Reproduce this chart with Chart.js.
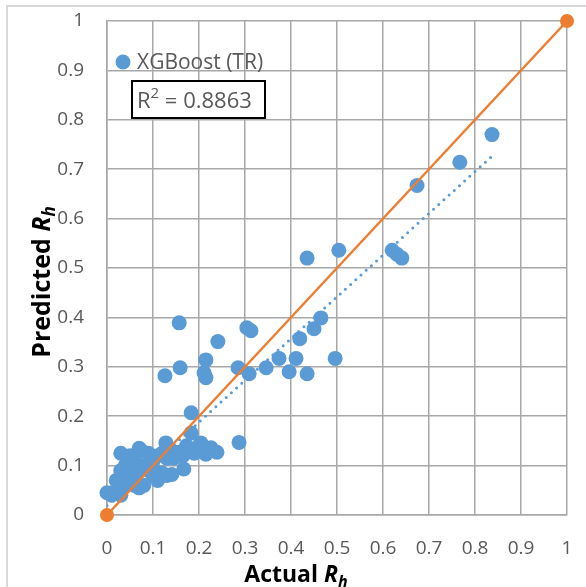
<!DOCTYPE html>
<html>
<head>
<meta charset="utf-8">
<script src="https://cdn.jsdelivr.net/npm/chart.js@4"></script>
<style>
  body { margin: 0; background: #fff; }
  #wrap { width: 586px; height: 587px; }
</style>
</head>
<body>
<div id="wrap"><canvas id="RhChart"></canvas></div>
<script>
// values
var actualRh = [
  0.837, 0.767, 0.674, 0.620, 0.630, 0.641, 0.504, 0.435, 0.465, 0.450,
  0.419, 0.411, 0.496, 0.396, 0.435, 0.374, 0.346, 0.309, 0.285, 0.304,
  0.313, 0.241, 0.215, 0.159, 0.157, 0.126, 0.211, 0.215, 0.183, 0.183,
  0.287,
  0.000, 0.010, 0.020, 0.030, 0.040, 0.020, 0.030, 0.040, 0.050, 0.060,
  0.070, 0.080, 0.050, 0.030, 0.070, 0.075, 0.060, 0.080, 0.090, 0.100,
  0.100, 0.110, 0.120, 0.130, 0.110, 0.120, 0.128, 0.140, 0.150, 0.157,
  0.167, 0.141, 0.189, 0.204, 0.226, 0.239, 0.215, 0.090, 0.045, 0.055,
  0.065, 0.173, 0.190, 0.200, 0.165, 0.145, 0.130, 0.100
];
var predictedRh = [
  0.770, 0.714, 0.667, 0.536, 0.528, 0.520, 0.536, 0.520, 0.399, 0.377,
  0.357, 0.317, 0.317, 0.290, 0.286, 0.317, 0.298, 0.286, 0.298, 0.379,
  0.373, 0.351, 0.314, 0.298, 0.389, 0.282, 0.288, 0.278, 0.207, 0.166,
  0.147,
  0.045, 0.040, 0.050, 0.040, 0.060, 0.070, 0.090, 0.100, 0.080, 0.060,
  0.055, 0.060, 0.120, 0.125, 0.135, 0.130, 0.110, 0.100, 0.090, 0.110,
  0.080, 0.070, 0.085, 0.080, 0.120, 0.125, 0.146, 0.130, 0.120, 0.127,
  0.093, 0.082, 0.133, 0.146, 0.136, 0.127, 0.123, 0.125, 0.095, 0.105,
  0.085, 0.140, 0.125, 0.140, 0.120, 0.115, 0.115, 0.095
];
var idealX = [0, 1];
var idealY = [0, 1];
var trendX = [0, 0.84];
var trendY = [0.019, 0.729];
var tickLabels = ['0', '0.1', '0.2', '0.3', '0.4', '0.5', '0.6', '0.7', '0.8', '0.9', '1'];
var seriesName = 'XGBoost (TR)';
var r2Text = '0.8863';

function pairs(xs, ys) {
  return xs.map(function (x, i) { return { x: x, y: ys[i] }; });
}

var gridColor = '#a8a8a8';
var textColor = '#595959';
var fontFam = '"Open Sans", "Liberation Sans", sans-serif';

function drawTitle(c, word, cx, base, size) {
  var sub = Math.round(size * 0.68);
  c.font = 'bold ' + size + 'px ' + fontFam;
  var wa = c.measureText(word).width;
  c.font = 'italic bold ' + size + 'px ' + fontFam;
  var wr = c.measureText('R').width;
  c.font = 'italic bold ' + sub + 'px ' + fontFam;
  var wh = c.measureText('h').width;
  var x0 = cx - (wa + wr + wh) / 2;
  c.font = 'bold ' + size + 'px ' + fontFam;
  c.fillText(word, x0, base);
  c.font = 'italic bold ' + size + 'px ' + fontFam;
  c.fillText('R', x0 + wa, base);
  c.font = 'italic bold ' + sub + 'px ' + fontFam;
  c.fillText('h', x0 + wa + wr, base + 5);
}

var extras = {
  id: 'extras',
  afterDraw: function (chart) {
    var c = chart.ctx;
    c.save();
    // outer frame
    c.strokeStyle = '#d9d9d9';
    c.lineWidth = 2;
    c.strokeRect(7, 6, 600, 620);

    // legend
    c.fillStyle = '#5b9bd5';
    c.beginPath();
    c.arc(123, 62, 7.5, 0, Math.PI * 2);
    c.fill();
    c.fillStyle = textColor;
    c.font = '21px ' + fontFam;
    c.textBaseline = 'alphabetic';
    c.textAlign = 'left';
    c.fillText(seriesName, 137, 69);

    // R2 box
    c.fillStyle = '#fff';
    c.fillRect(132, 81, 133, 37);
    c.strokeStyle = '#000';
    c.lineWidth = 2;
    c.strokeRect(132, 81, 133, 37);
    c.fillStyle = textColor;
    c.font = '22px ' + fontFam;
    c.fillText('R', 137, 108);
    var w = c.measureText('R').width;
    c.font = '15px ' + fontFam;
    c.fillText('2', 137 + w, 98);
    var w2 = c.measureText('2').width;
    c.font = '22px ' + fontFam;
    c.fillText(' = ' + r2Text, 137 + w + w2, 108);

    // axis titles
    c.fillStyle = '#000';
    drawTitle(c, 'Actual ', 296, 582, 23);
    c.translate(50, 282);
    c.rotate(-Math.PI / 2);
    drawTitle(c, 'Predicted ', 0, 0, 25);
    c.restore();
  }
};

var ctx = document.getElementById('RhChart').getContext('2d');
var rhChart = new Chart(ctx, {
  type: 'scatter',
  data: {
    datasets: [{
      label: 'ideal',
      data: pairs(idealX, idealY),
      showLine: true,
      borderColor: '#ed7d31',
      borderWidth: 2.5,
      backgroundColor: '#ed7d31',
      pointRadius: 7,
      pointBorderWidth: 0,
      clip: false,
      order: 0
    }, {
      label: 'trend',
      data: pairs(trendX, trendY),
      showLine: true,
      borderColor: '#5b9bd5',
      borderWidth: 3,
      borderDash: [0, 7],
      borderCapStyle: 'round',
      pointRadius: 0,
      order: 1
    }, {
      label: seriesName,
      data: pairs(actualRh, predictedRh),
      backgroundColor: '#5b9bd5',
      borderWidth: 0,
      pointRadius: 7.5,
      clip: false,
      order: 2
    }]
  },
  options: {
    responsive: true,
    maintainAspectRatio: false,
    animation: false,
    layout: { padding: { left: 0, right: 19, top: 21, bottom: 0 } },
    plugins: {
      legend: { display: false },
      tooltip: { enabled: false }
    },
    scales: {
      x: {
        min: 0, max: 1,
        afterFit: function (s) {
          s.height = 72;
          s.paddingLeft = 0; s.paddingRight = 0;
        },
        grid: { color: gridColor, lineWidth: 1.5, drawTicks: false },
        border: { color: gridColor, width: 1.5 },
        ticks: {
          stepSize: 0.1, padding: 22, color: textColor,
          font: { size: 19, family: fontFam },
          maxRotation: 0, autoSkip: false,
          callback: function (v, i) { return tickLabels[i]; }
        }
      },
      y: {
        min: 0, max: 1,
        afterFit: function (s) {
          s.width = 107;
          s.paddingTop = 0; s.paddingBottom = 0;
        },
        grid: { color: gridColor, lineWidth: 1.5, drawTicks: false },
        border: { color: gridColor, width: 1.5 },
        ticks: {
          stepSize: 0.1, padding: 23, color: textColor,
          font: { size: 19, family: fontFam },
          autoSkip: false,
          callback: function (v, i) { return tickLabels[i]; }
        }
      }
    }
  },
  plugins: [extras]
});
</script>
</body>
</html>
